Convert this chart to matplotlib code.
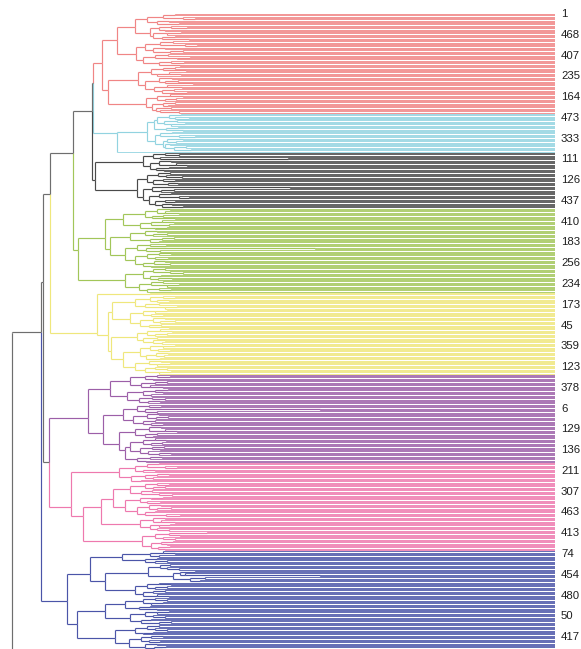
import matplotlib
matplotlib.use("Agg")
import matplotlib.pyplot as plt
from matplotlib.collections import LineCollection
from matplotlib.transforms import offset_copy

# Each node is [merge height, child, child]; a bare 1 is a single sample.
red_tree = [453,
    [438,
        [420,
            [408, [392, [380, 1, 1], [372, 1, [360, 1, 1]]],
                  [398, [386, 1, 1], [376, 1, 1]]],
            [405, [396, [384, 1, [368, 1, 1]], [390, 1, 1]],
                  [402, [388, [374, 1, 1], 1], [393, [380, 1, 1], [366, 1, 1]]]]],
        [419,
            [410, [395, [382, 1, 1], [370, 1, [358, 1, 1]]],
                  [402, [390, 1, 1], [385, [372, 1, 1], 1]]],
            [412, [400, [387, 1, 1], [378, [365, 1, 1], 1]],
                  [396, [384, 1, [371, 1, 1]], [375, 1, 1]]]]],
    [447,
        [417,
            [404, [392, [380, 1, 1], [369, 1, 1]], [398, [386, 1, [374, 1, 1]], 1]],
            [410, [396, [383, 1, 1], [390, [377, 1, 1], [362, 1, 1]]],
                  [401, [388, 1, [373, 1, 1]], [393, [381, 1, 1], [368, 1, 1]]]]],
        [409,
            [398, [385, 1, [372, 1, 1]], [390, [379, 1, 1], 1]],
            [403, [392, [380, 1, 1], [387, 1, 1]],
                  [399, [384, 1, 1], [395, 1, [376, 1, 1]]]]]]]

blue_tree = [438,
    [408,
        [401, [398, [386, [374, 1, 1], [380, 1, [366, 1, 1]]],
                    [391, [378, 1, 1], [384, [370, 1, 1], 1]]],
              [389, [377, 1, 1], [372, 1, 1]]],
        [400, [395, [383, 1, 1], [376, 1, [360, 1, 1]]],
              [392, [388, [372, 1, 1], [379, 1, 1]],
                    [390, [385, 1, 1], [381, [369, 1, 1], [364, 1, 1]]]]]],
    1]

black_tree = [460,
    [412, [402, [390, 1, [376, 1, 1]], [395, 1, [267, 1, 1]]],
          [405, [396, [384, 1, 1], [379, 1, [368, 1, 1]]],
                [399, [386, 1, 1], [391, 1, 1]]]],
    [418, [408, [397, [385, 1, 1], [389, 1, [373, 1, 1]]],
                [402, [392, 1, [380, 1, 1]], [387, [377, 1, 1], 1]]],
          [412, [403, [265, 1, 1], [394, [381, 1, 1], 1]],
                [406, [396, [384, 1, 1], [376, 1, [366, 1, 1]]],
                      [400, [390, 1, [380, 1, 1]], [393, [383, 1, 1], [372, 1, 1]]]]]]]

green_tree = [477,
    [450,
        [432, [410, [398, [385, 1, 1], [390, 1, [376, 1, 1]]], [403, [392, 1, 1], [380, 1, 1]]],
              [415, [404, [393, 1, [381, 1, 1]], [386, 1, 1]], [400, [388, 1, 1], 1]]],
        [445, [425, [410, [398, 1, 1], [402, [388, 1, 1], 1]], [405, [393, [381, 1, 1], 1], [396, 1, 1]]],
              [430, [418, [405, 1, [389, 1, 1]], [409, [240, 1, 1], [395, 1, 1]]],
                    [420, [408, [396, [384, 1, 1], 1], [400, 1, [387, 1, 1]]],
                          [412, [401, [390, 1, 1], [385, 1, 1]], [404, 1, 1]]]]]],
    [430, [412, [402, [390, 1, 1], [385, 1, [372, 1, 1]]], [405, [394, 1, 1], [397, [383, 1, 1], 1]]],
          [416, [404, [392, 1, 1], [388, [376, 1, 1], 1]], [408, [396, 1, [384, 1, 1]], 1]]]]

yellow_tree = [458, [405, 1, 1],
    [447,
        [443, [420, [405, [392, 1, [380, 1, 1]], [398, [386, 1, 1], 1]],
                    [410, [396, 1, 1], [390, [378, 1, 1], 1]]],
              [425, [412, [400, [388, 1, 1], 1], [404, 1, [392, 1, 1]]],
                    [415, [402, [390, 1, 1], [395, [380, 1, 1], 1]], [406, [394, 1, 1], [386, 1, 1]]]]],
        [444, [418, [408, [395, 1, [383, 1, 1]], [400, [388, 1, 1], 1]],
                    [412, [398, 1, 1], [402, [390, 1, 1], [393, 1, 1]]]],
              [432, [415, [405, [392, [380, 1, 1], 1], [397, 1, [385, 1, 1]]],
                          [409, [399, [387, 1, 1], [391, 1, 1]], [395, 1, 1]]],
                    [420, [406, [394, 1, 1], [398, [385, 1, 1], 1]],
                          [410, [400, 1, [388, 1, 1]], [396, [384, 1, 1], 1]]]]]]]

purple_tree = [467,
    [445, [425, [410, [398, 1, [385, 1, 1]], [402, 1, 1]], [414, [400, [388, 1, 1], 1], [405, 1, [392, 1, 1]]]],
          [428, [412, [400, [387, 1, 1], [392, 1, 1]], [404, 1, 1]], [416, [403, 1, [390, 1, 1]], [407, [395, 1, 1], 1]]]],
    [452,
        [432, [418, [406, 1, [394, 1, 1]], [410, [235, 1, 1], [398, 1, 1]]],
              [422, [408, [396, 1, 1], [399, [387, 1, 1], 1]], [412, [400, 1, 1], [404, 1, [392, 1, 1]]]]],
        [436, [420, [406, [394, 1, 1], [390, 1, [378, 1, 1]]], [410, [398, 1, 1], [402, 1, 1]]],
              [430, [425, [412, [400, 1, [389, 1, 1]], [404, [393, 1, 1], 1]],
                          [415, [403, [391, 1, 1], [395, 1, 1]], [407, 1, [396, [384, 1, 1], 1]]]],
                    [418, [405, [393, 1, 1], 1], [409, 1, 1]]]]]]

pink_tree = [484,
    [436, [420, [408, [396, 1, 1], [390, 1, [378, 1, 1]]], [412, [400, 1, 1], 1]],
          [424, [410, [398, [386, 1, 1], 1], [402, 1, 1]], [414, 1, 1]]],
    [472,
        [454,
            [442, [425, [410, [398, 1, [386, 1, 1]], [402, [390, 1, 1], 1]], [414, [403, 1, 1], [396, 1, [383, 1, 1]]]],
                  [430, [415, [404, [392, 1, 1], 1], [408, 1, [395, 1, 1]]],
                        [418, [406, [394, 1, 1], [398, [384, 1, 1], 1]], [410, [400, 1, 1], [389, 1, [375, 1, 1]]]]]],
            [415, [402, [390, 1, 1], [394, 1, [380, 1, 1]]], [405, [396, [385, 1, 1], 1], [398, 1, [386, 1, 1]]]]],
        [413, [400, [386, [348, 1, 1], [375, 1, 1]], [392, 1, [380, 1, 1]]],
              [404, [394, [382, 1, 1], [388, 1, 1]], [397, [385, 1, 1], [390, 1, 1]]]]]]

navy_tree = [488,
    [465,
        [433, [405, [392, 1, [380, 1, 1]], [396, 1, 1]], [410, [398, 1, 1], [400, [388, 1, 1], 1]]],
        [450,
            [407, [395, [385, 1, 1], [388, 1, [376, 1, 1]]],
                  [382, [375, [360, 1, 1], [370, 1, [235, 1, 1]]], [365, [350, 1, 1], [355, 1, 1]]]],
            [420, [408, [396, 1, [384, 1, 1]], [400, [388, 1, 1], 1]],
                  [412, [402, [390, 1, 1], 1], [398, 1, [386, 1, 1]]]]]],
    [478,
        [450, [430, [412, [400, 1, [388, 1, 1]], [404, [392, 1, 1], 1]], [416, [405, 1, 1], [398, 1, 1]]],
              [425, [410, [398, [386, 1, 1], 1], [402, 1, [390, 1, 1]]], [414, [404, 1, 1], [396, [384, 1, 1], 1]]]],
        [440, [420, [408, [396, 1, 1], [400, 1, [388, 1, 1]]], [412, [402, 1, 1], 1]],
              [426, [414, [404, [392, 1, 1], 1], [406, 1, [395, 1, 1]]],
                    [410, [398, 1, 1], [401, [389, 1, 1], [393, 1, 1]]]]]]]

# the rest of the tree continues below the visible window
outgroup_tree = 1

# how the coloured groups join
upper_tree = [543,
    [514,
        [512.5,
            [505, [482, [463.5, [462, "red", "blue"], "black"], "green"], "yellow"],
            [506, "purple", "pink"]],
        "navy"],
    "outgroup"]

clusters = {
    "red": (red_tree, "#F08585"),
    "blue": (blue_tree, "#92D3E0"),
    "black": (black_tree, "#4A4A4A"),
    "green": (green_tree, "#A2C659"),
    "yellow": (yellow_tree, "#EFE77C"),
    "purple": (purple_tree, "#9C5FA8"),
    "pink": (pink_tree, "#EE79AE"),
    "navy": (navy_tree, "#4B55A8"),
    "outgroup": (outgroup_tree, "#6E6E6E"),
}
trunk_color = "#6E6E6E"

leaf_labels = ["1", "468", "407", "235", "164", "473", "333", "111", "126", "437",
               "410", "183", "256", "234", "173", "45", "359", "123", "378", "6",
               "129", "136", "211", "307", "463", "413", "74", "454", "480", "50", "417"]
label_step = 16

branch_segs, branch_cols = [], []
leaf_segs, leaf_cols = [], []
counter = [0]


def place(node, color):
    """Lay the subtree out; return (y, height, first leaf, last leaf, colour)."""
    if isinstance(node, str):
        tree, c = clusters[node]
        return place(tree, c)
    if node == 1:
        i = counter[0]
        counter[0] += 1
        return i, 0.0, i, i, color
    h = node[0]
    kids = [place(k, color) for k in node[1:]]
    lo, hi = kids[0][2], kids[-1][3]
    y = (lo + hi) / 2.0
    for ky, kh, _, _, kc in kids:
        branch_segs.append([(h, y), (h, ky)])
        branch_cols.append(kc)
        if kh == 0:
            leaf_segs.append([(h, ky), (kh, ky)])
            leaf_cols.append(kc)
        else:
            branch_segs.append([(h, ky), (kh, ky)])
            branch_cols.append(kc)
    return y, h, lo, hi, color


place(upper_tree, trunk_color)

fig = plt.figure(figsize=(5.81, 6.49), dpi=100)
ax = fig.add_axes([0, 0, 555 / 581, 1])
ax.add_collection(LineCollection(leaf_segs, colors=leaf_cols, linewidths=0.6))
ax.add_collection(LineCollection(branch_segs, colors=branch_cols, linewidths=0.85))
ax.set_xlim(555, 0)
ax.set_ylim(489.2, -10.8)
ax.axis("off")

lab_tr = offset_copy(ax.transData, fig=fig, x=6, y=0, units="dots")
for k, lab in enumerate(leaf_labels):
    ax.text(0, k * label_step, lab, transform=lab_tr, ha="left", va="center",
            fontsize=8.2, family="Liberation Sans", color="#1E1E1E", clip_on=False)

fig.savefig("out.png", dpi=100)
